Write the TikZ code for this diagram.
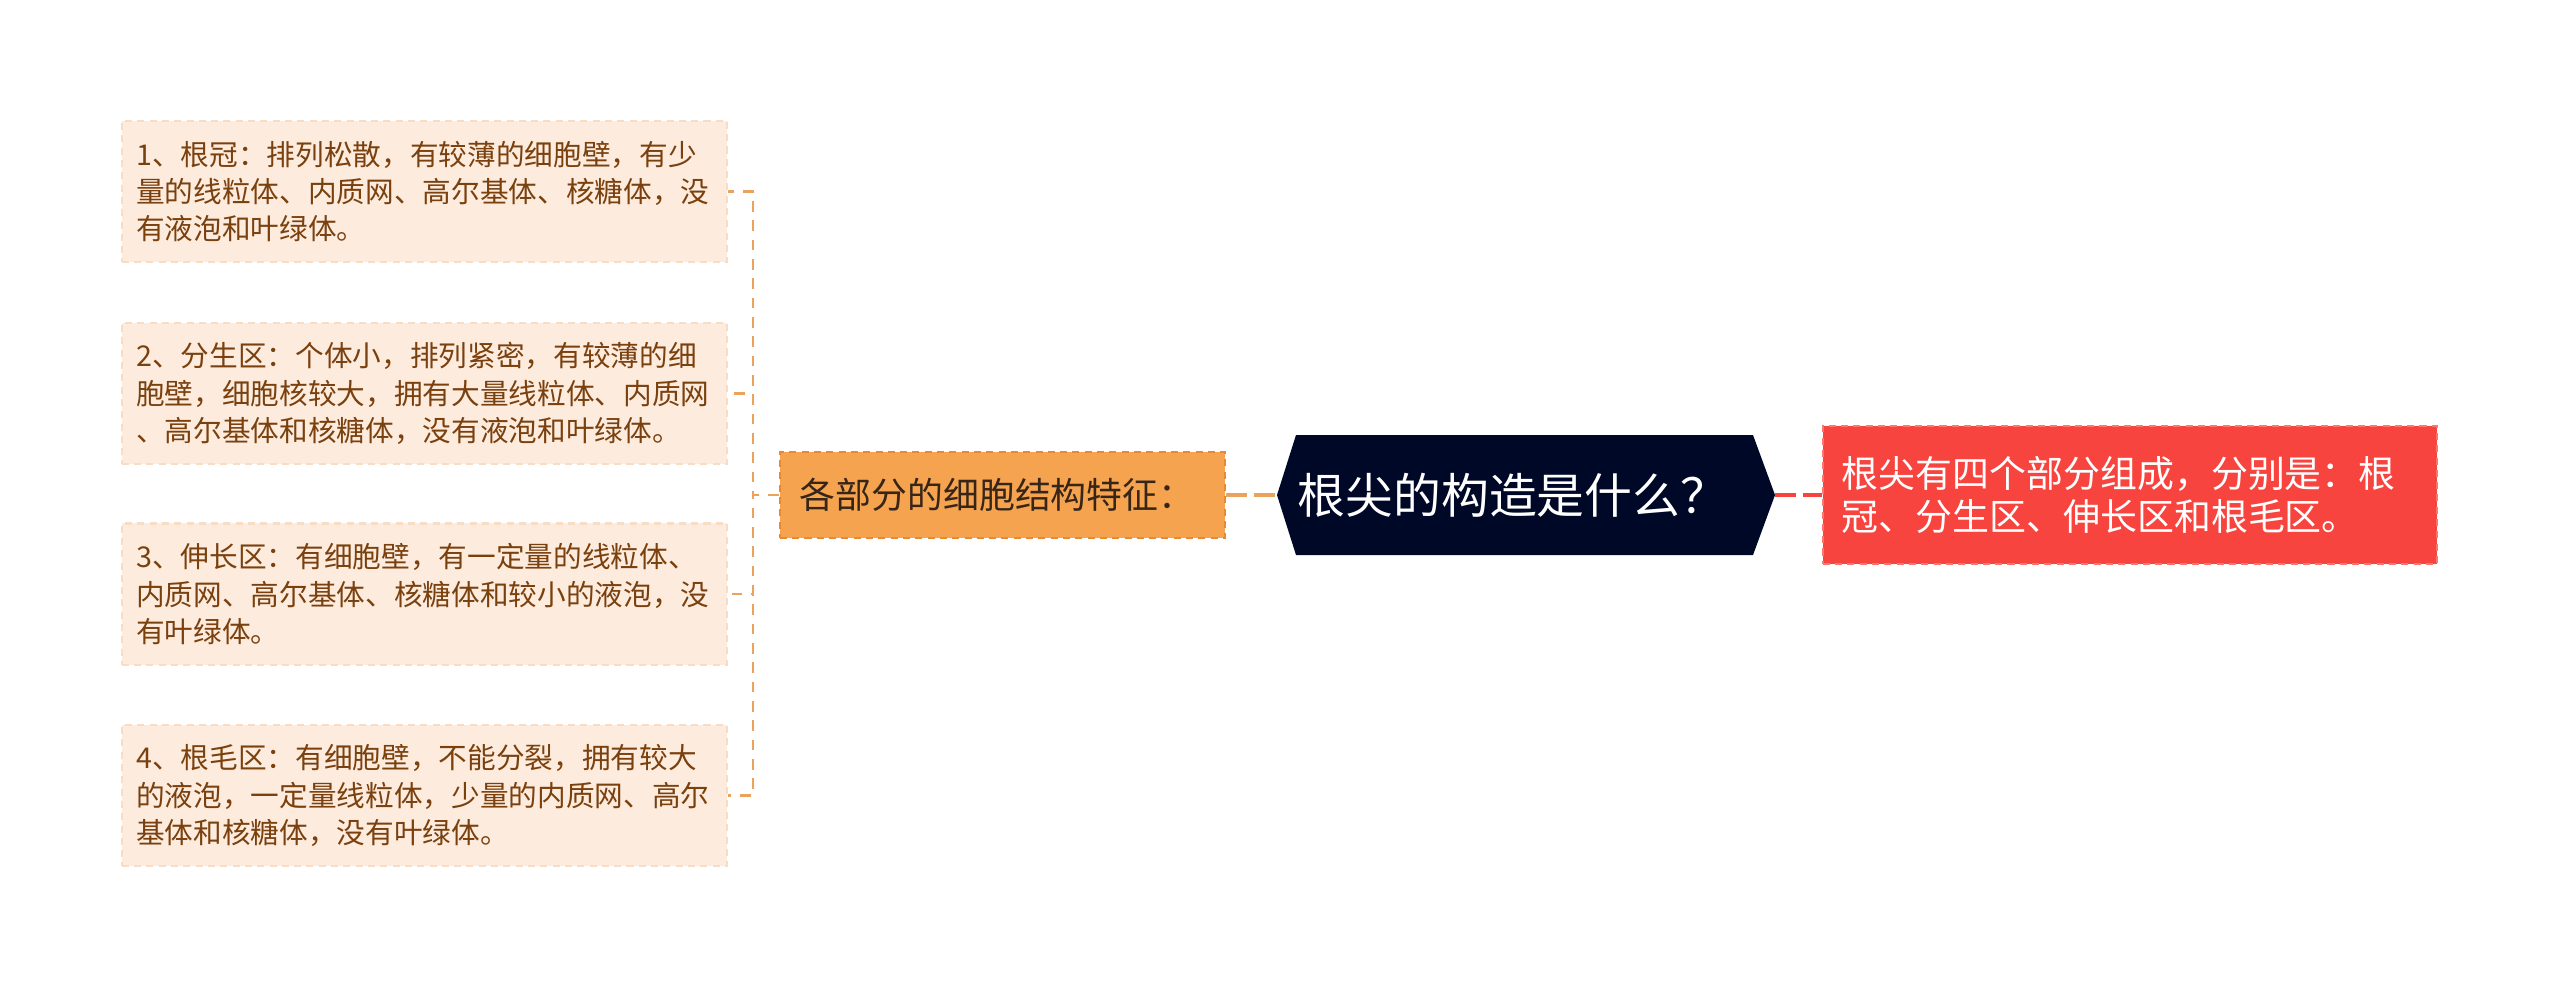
\documentclass[tikz,border=0pt]{standalone}
\usepackage{fontspec}
\setmainfont{Noto Sans CJK SC}
\usetikzlibrary{calc}

\definecolor{leaffill}{RGB}{253,236,222}
\definecolor{leafline}{RGB}{249,220,196}
\definecolor{leaftext}{RGB}{122,64,14}
\definecolor{midfill}{RGB}{245,163,79}
\definecolor{midline}{RGB}{230,138,52}
\definecolor{midtext}{RGB}{55,38,24}
\definecolor{rootfill}{RGB}{0,8,40}
\definecolor{redfill}{RGB}{247,68,62}
\definecolor{redline}{RGB}{252,120,110}
\definecolor{brcolor}{RGB}{235,162,92}

\tikzset{
  leafbox/.style={fill=leaffill, draw=leafline, line width=0.6pt, dash pattern=on 2pt off 1.5pt,
    text=leaftext, align=left, text width=5.76cm, inner xsep=0.145cm, inner ysep=0pt,
    minimum height=1.41cm, font=\fontsize{8.15pt}{10.6pt}\selectfont},
  midbox/.style={fill=midfill, draw=midline, line width=0.6pt, dash pattern=on 2pt off 1.5pt,
    text=midtext, align=left, text width=4.05cm, inner xsep=0.2cm, inner ysep=0pt,
    minimum height=0.86cm, font=\fontsize{10.2pt}{12pt}\selectfont},
  redbox/.style={fill=redfill, draw=redline, line width=0.6pt, dash pattern=on 2pt off 1.5pt,
    text=white, align=left, text width=5.76cm, inner xsep=0.19cm, inner ysep=0pt,
    minimum height=1.38cm, font=\fontsize{10.5pt}{12.2pt}\selectfont},
  roottext/.style={text=white, inner sep=0pt, minimum width=4.3cm, minimum height=1.2cm,
    font=\fontsize{13.6pt}{15pt}\selectfont},
  brline/.style={brcolor, line width=0.7pt, dash pattern=on 3pt off 2.5pt},
  midlink/.style={brcolor, line width=1.1pt, dash pattern=on 6pt off 2pt},
  redlink/.style={redfill, line width=1.1pt, dash pattern=on 6pt off 2pt}
}

\begin{document}
\begin{tikzpicture}[x=0.01cm, y=-0.01cm]
  \useasboundingbox (0,0) rectangle (2560,990);

  % --- central topic (hexagon) ---
  \coordinate (rootW) at (1277,495);
  \coordinate (rootE) at (1775,495);
  \fill[rootfill] (rootW) -- (1296,435) -- (1753,435) -- (rootE) -- (1753,555) -- (1296,555) -- cycle;
  \node[roottext] (root) at (1513,495) {根尖的构造是什么？};

  % --- right branch ---
  \node[redbox] (answer) at (2130,495)
    {根尖有四个部分组成，分别是：根\\冠、分生区、伸长区和根毛区。};

  % --- left branch ---
  \node[midbox] (feat) at (1002.5,495) {各部分的细胞结构特征：};

  \node[leafbox] (leaf1) at (424.5,191.5)
    {1、根冠：排列松散，有较薄的细胞壁，有少\\量的线粒体、内质网、高尔基体、核糖体，没\\有液泡和叶绿体。};
  \node[leafbox] (leaf2) at (424.5,393.5)
    {2、分生区：个体小，排列紧密，有较薄的细\\胞壁，细胞核较大，拥有大量线粒体、内质网\\、高尔基体和核糖体，没有液泡和叶绿体。};
  \node[leafbox] (leaf3) at (424.5,594)
    {3、伸长区：有细胞壁，有一定量的线粒体、\\内质网、高尔基体、核糖体和较小的液泡，没\\有叶绿体。};
  \node[leafbox] (leaf4) at (424.5,795.5)
    {4、根毛区：有细胞壁，不能分裂，拥有较大\\的液泡，一定量线粒体，少量的内质网、高尔\\基体和核糖体，没有叶绿体。};

  % --- connectors ---
  \draw[redlink] (rootE) -- (answer.west);
  \draw[midlink] (feat.east) -- (rootW);
  \foreach \i in {1,...,4}
    \draw[brline] (feat.west) -- ++(-26,0) |- (leaf\i.east);
\end{tikzpicture}
\end{document}
